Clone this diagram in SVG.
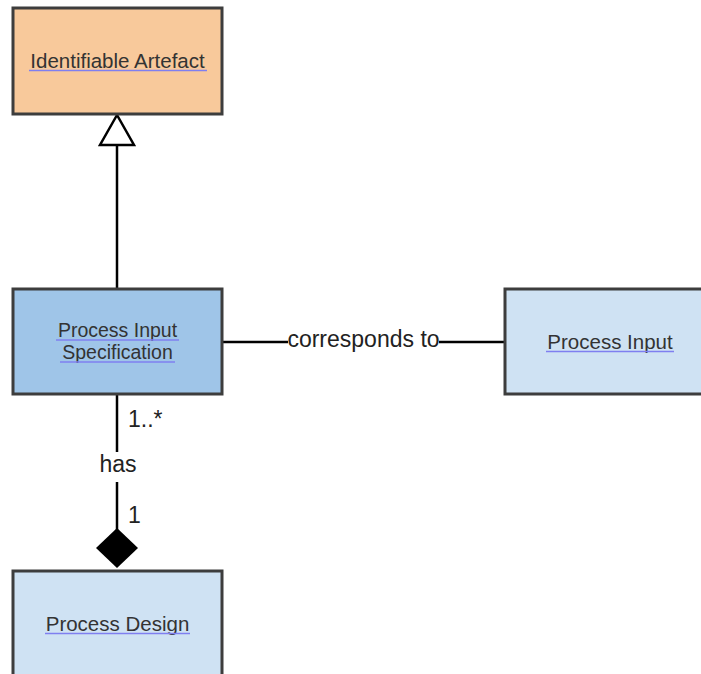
<svg xmlns="http://www.w3.org/2000/svg" width="701" height="674" viewBox="0 0 701 674">
<style>
.box{stroke:#3d3d3d;stroke-width:3}
.lbl{font-family:"Liberation Sans",Arial,sans-serif;font-size:20.5px;fill:#333;text-anchor:middle}
.elbl{font-family:"Liberation Sans",Arial,sans-serif;font-size:23px;fill:#222}
.ul{stroke:#7f7ff0;stroke-width:1.5}
.conn{stroke:#000;stroke-width:2.5;fill:none}
</style>
<rect width="701" height="674" fill="#fff"/>
<g id="connectors">
<line class="conn" x1="117" y1="145" x2="117" y2="289"/>
<polygon points="117,115 100,145 134,145" fill="#fff" stroke="#000" stroke-width="2.5"/>
<line class="conn" x1="222" y1="342" x2="288" y2="342"/>
<line class="conn" x1="439" y1="342" x2="505" y2="342"/>
<text class="elbl" x="363.5" y="347" text-anchor="middle">corresponds to</text>
<line class="conn" x1="117" y1="394" x2="117" y2="452"/>
<line class="conn" x1="117" y1="482" x2="117" y2="530"/>
<text class="elbl" x="118" y="472" text-anchor="middle">has</text>
<text class="elbl" x="128" y="427">1..*</text>
<text class="elbl" x="128" y="523">1</text>
<polygon points="117,528 138,548 117,568 96,548" fill="#000"/>
</g>
<g id="identifiable-artefact">
<rect class="box" x="13" y="8" width="209" height="106" fill="#f8c99b"/>
<text class="lbl" x="117.5" y="68">Identifiable Artefact</text>
<line class="ul" x1="29" y1="70.5" x2="207" y2="70.5"/>
</g>
<g id="process-input-specification">
<rect class="box" x="13" y="289" width="209" height="105" fill="#9fc5e8"/>
<text class="lbl" style="font-size:19.5px"><tspan x="117.5" y="337">Process Input</tspan><tspan x="117.5" y="359">Specification</tspan></text>
<line class="ul" x1="56" y1="340" x2="179" y2="340"/>
<line class="ul" x1="60" y1="362" x2="175" y2="362"/>
</g>
<g id="process-input">
<rect class="box" x="505" y="289" width="209" height="105" fill="#cfe2f3"/>
<text class="lbl" x="610" y="349">Process Input</text>
<line class="ul" x1="546" y1="351.5" x2="674" y2="351.5"/>
</g>
<g id="process-design">
<rect class="box" x="13" y="571" width="209" height="106" fill="#cfe2f3"/>
<text class="lbl" x="117.5" y="631">Process Design</text>
<line class="ul" x1="45" y1="633.5" x2="190" y2="633.5"/>
</g>
</svg>
